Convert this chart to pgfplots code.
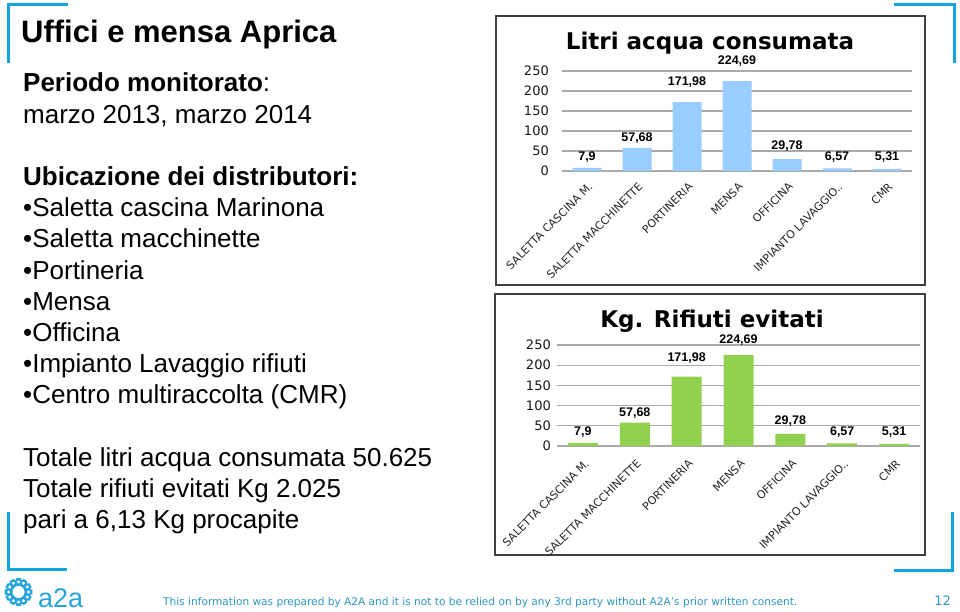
\documentclass[border=0pt]{standalone}
\usepackage{fontspec}
\usepackage{pgfplots}
\usepackage{pgfplotstable}
\usepackage{graphicx}
\pgfplotsset{compat=1.18}
\setmainfont{Liberation Sans}
\newfontfamily\dejavu{DejaVu Sans}
\newcommand{\fsz}[1]{\fontsize{#1pt}{#1pt}\selectfont}
\definecolor{a2ablue}{RGB}{20,162,224}
\definecolor{tealtxt}{RGB}{45,150,195}
\definecolor{logoblue}{RGB}{40,165,215}
\definecolor{barblue}{RGB}{153,204,255}
\definecolor{bargreen}{RGB}{146,208,80}
\definecolor{gridgray}{RGB}{170,170,170}
\definecolor{boxgray}{RGB}{64,64,64}

% x = category, v = value, ly = label position, lab = label
\pgfplotstableread{
x v ly lab
0 7.9 25 7,9
1 57.68 73 57,68
2 171.98 213 171,98
3 224.69 265 224,69
4 29.78 52.5 29,78
5 6.57 25 6,57
6 5.31 25 5,31
}\acqua
\pgfplotstableread{
x v ly lab
0 7.9 27 7,9
1 57.68 72.5 57,68
2 171.98 210 171,98
3 224.69 254 224,69
4 29.78 52 29,78
5 6.57 27 6,57
6 5.31 27 5,31
}\rifiuti

\pgfplotsset{slide/.style={
  scale only axis, anchor=south west, clip=false,
  xmin=-0.5, xmax=6.5, ymin=0, ymax=250,
  ytick={0,50,...,250}, xtick={0,...,6},
  xticklabels={SALETTA CASCINA M.,SALETTA MACCHINETTE,PORTINERIA,MENSA,OFFICINA,IMPIANTO LAVAGGIO..,CMR},
  axis line style={draw=none}, major tick length=0pt,
  ymajorgrids, grid style={gridgray, line width=1.2pt},
  yticklabel style={font=\dejavu\fsz{13}, text=black!90, inner sep=0pt, anchor=east},
  /pgf/number format/assume math mode=true,
}}

\begin{document}
\begin{tikzpicture}
\useasboundingbox (0pt,0pt) rectangle (960pt,612pt);
\fill[white] (0pt,0pt) rectangle (960pt,612pt);

% corner brackets
\begin{scope}[a2ablue, line width=3pt]
\draw (8pt,549pt) -- (8pt,607pt) -- (68pt,607pt);
\draw (894pt,607pt) -- (954pt,607pt) -- (954pt,549pt);
\draw (8pt,100pt) -- (8pt,42pt) -- (67pt,42pt);
\draw (952pt,100pt) -- (952pt,41pt) -- (894pt,41pt);
\end{scope}

% left text
\node[anchor=base west, inner sep=0pt, font=\bfseries\fsz{31}] at (21pt,569pt) {Uffici e mensa Aprica};
\begin{scope}[every node/.style={anchor=base west, inner sep=0pt, font=\fsz{26}}]
\node at (23pt,520pt) {\textbf{Periodo monitorato}:};
\node at (23pt,488.8pt) {marzo 2013, marzo 2014};
\node at (23pt,426.4pt) {\textbf{Ubicazione dei distributori:}};
\node at (23pt,395.2pt) {•Saletta cascina Marinona};
\node at (23pt,364pt) {•Saletta macchinette};
\node at (23pt,332.8pt) {•Portineria};
\node at (23pt,301.6pt) {•Mensa};
\node at (23pt,270.4pt) {•Officina};
\node at (23pt,239.2pt) {•Impianto Lavaggio rifiuti};
\node at (23pt,208pt) {•Centro multiraccolta (CMR)};
\node at (23pt,145.6pt) {Totale litri acqua consumata 50.625};
\node at (23pt,114.4pt) {Totale rifiuti evitati Kg 2.025};
\node at (23pt,83.2pt) {pari a 6,13 Kg procapite};
\end{scope}

% chart frames
\draw[boxgray, line width=1.3pt] (496pt,327pt) rectangle (925pt,596pt);
\draw[boxgray, line width=1.3pt] (495pt,57pt) rectangle (925pt,318pt);

% titles
\node[anchor=base, inner sep=0pt, font=\dejavu\bfseries\fsz{23}] at (710pt,562pt) {Litri acqua consumata};
\node[anchor=base, inner sep=0pt, font=\dejavu\bfseries\fsz{23}] at (712pt,284pt) {Kg. Rifiuti evitati};

% top chart
\begin{axis}[slide, at={(562pt,441pt)}, width=350pt, height=100pt,
  yticklabel style={xshift=-13pt},
  xticklabel style={font=\dejavu\fsz{11}, text=black!85, inner sep=0pt, anchor=east, xshift=3.7pt, yshift=-13.7pt, rotate=45}]
\addplot[ybar, bar width=29pt, fill=barblue, draw=none] table[x=x, y=v] {\acqua};
\addplot[draw=none, mark=none, nodes near coords, point meta=explicit symbolic,
  every node near coord/.append style={font=\bfseries\fsz{12.5}, text=black, anchor=base, inner sep=0pt}]
  table[x=x, y=ly, meta=lab] {\acqua};
\end{axis}

% bottom chart
\begin{axis}[slide, at={(557pt,166pt)}, width=363pt, height=101pt,
  yticklabel style={xshift=-6pt},
  xticklabel style={font=\dejavu\fsz{11}, text=black!85, inner sep=0pt, anchor=east, xshift=4.2pt, yshift=-15.7pt, rotate=45}]
\addplot[ybar, bar width=30pt, fill=bargreen, draw=none] table[x=x, y=v] {\rifiuti};
\addplot[draw=none, mark=none, nodes near coords, point meta=explicit symbolic,
  every node near coord/.append style={font=\bfseries\fsz{12.5}, text=black, anchor=base, inner sep=0pt}]
  table[x=x, y=ly, meta=lab] {\rifiuti};
\end{axis}

% footer
\fill[logoblue] (18.5pt,20pt) circle (14pt);
\fill[white] (18.5pt,20pt) circle (6pt);
\foreach \a in {0,30,...,330} {
  \fill[white] ([shift={(\a:10pt)}]18.5pt,20pt) circle (1.6pt);
  \fill[white] ([shift={(\a+15:13.5pt)}]18.5pt,20pt) circle (1.2pt);
}
\node[anchor=base west, inner sep=0pt, font=\fsz{27}, text=logoblue] at (38pt,4pt) {a2a};
\node[anchor=base west, inner sep=0pt, text=tealtxt] at (163pt,6pt) {\resizebox{634pt}{!}{\dejavu\fsz{10}This information was prepared by A2A and it is not to be relied on by any 3rd party without A2A’s prior written consent.}};
\node[anchor=base east, inner sep=0pt, font=\dejavu\fsz{13}, text=tealtxt] at (951pt,6pt) {12};
\end{tikzpicture}
\end{document}
